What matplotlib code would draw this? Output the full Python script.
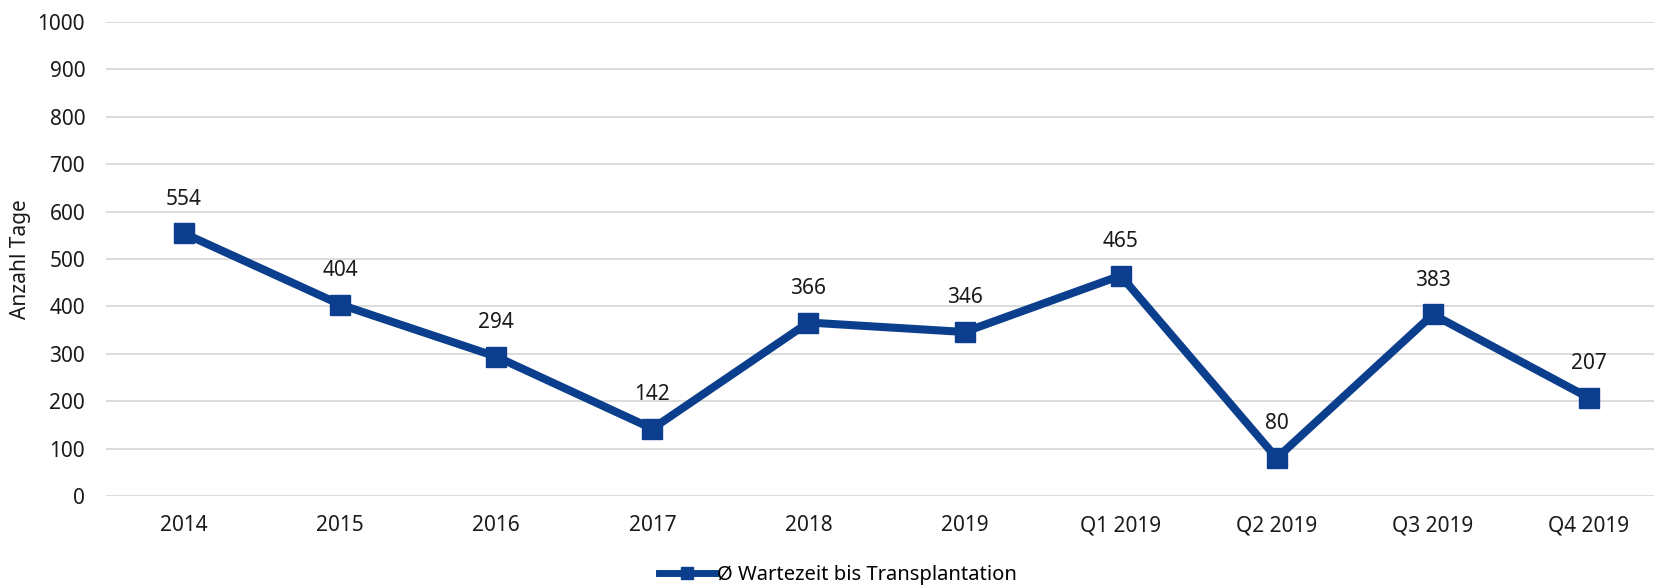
import matplotlib.pyplot as plt

categories = ['2014', '2015', '2016', '2017', '2018', '2019', 'Q1 2019', 'Q2 2019', 'Q3 2019', 'Q4 2019']
wartezeit = [554, 404, 294, 142, 366, 346, 465, 80, 383, 207]
yticks = list(range(0, 1001, 100))

plt.rcParams['font.family'] = ['Noto Sans', 'DejaVu Sans']
blue = '#0B3F8E'

fig = plt.figure(figsize=(16.54, 5.86), dpi=100)
ax = fig.add_axes([106 / 1654, 90 / 586, 1 - 106 / 1654, (496 - 22) / 586])

x = list(range(len(categories)))
ax.plot(x, wartezeit, color=blue, linewidth=5.8, marker='s', markersize=15,
        label='Ø Wartezeit bis Transplantation', solid_joinstyle='miter')

for xi, v in zip(x, wartezeit):
    ax.annotate(str(v), (xi, v), textcoords='offset points', xytext=(0, 17),
                ha='center', va='bottom', fontsize=15, color='#1a1a1a')

ax.set_xlim(-0.5, 9 + (1654 - 1589) / 156)
ax.set_ylim(0, 1000)
ax.set_xticks(x)
ax.set_xticklabels(categories)
ax.set_yticks(yticks)
ax.tick_params(axis='both', length=0, labelsize=15, labelcolor='#1a1a1a')
ax.tick_params(axis='x', pad=14)
ax.tick_params(axis='y', pad=15)
ax.grid(axis='y', color='#D9D9D9', linewidth=1.3)
ax.set_axisbelow(True)
for s in ax.spines.values():
    s.set_visible(False)

ax.set_ylabel('Anzahl Tage', fontsize=15, color='#1a1a1a', labelpad=5)

leg = fig.legend(loc='center', bbox_to_anchor=(838 / 1654, 1 - 575 / 586), frameon=False,
                 fontsize=14.5, handlelength=2.8, handletextpad=0.1, markerscale=0.6)
for line in leg.get_lines():
    line.set_linewidth(5)

fig.savefig('out.png', dpi=100)
